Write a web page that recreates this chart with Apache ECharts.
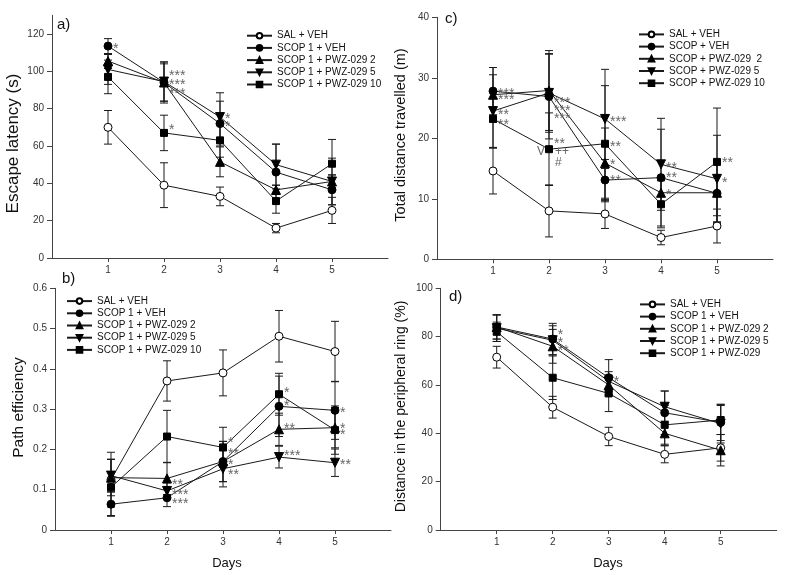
<!DOCTYPE html>
<html><head><meta charset="utf-8">
<script src="https://cdn.jsdelivr.net/npm/echarts@6/dist/echarts.min.js"></script>
<style>html,body{margin:0;padding:0;background:#fff}#c{width:800px;height:575px}</style>
</head><body><div id="c"></div>
<script>
// ---------- data ----------
const days = [1, 2, 3, 4, 5];
const dayTicks = [1, 2, 3, 4, 5];

const namesAB = ['SAL + VEH', 'SCOP 1 + VEH', 'SCOP 1 + PWZ-029 2', 'SCOP 1 + PWZ-029 5', 'SCOP 1 + PWZ-029 10'];
const namesC = ['SAL + VEH', 'SCOP + VEH', 'SCOP + PWZ-029  2', 'SCOP + PWZ-029 5', 'SCOP + PWZ-029 10'];
const namesD = ['SAL + VEH', 'SCOP 1 + VEH', 'SCOP 1 + PWZ-029 2', 'SCOP 1 + PWZ-029 5', 'SCOP 1 + PWZ-029'];

// a) Escape latency (s)
const aTicks = [0, 20, 40, 60, 80, 100, 120];
const a_SAL = [70, 39, 33, 16, 25.5],    a_SAL_err = [9, 12, 5, 2.5, 7];
const a_VEH = [113.5, 94, 72, 46, 36.5], a_VEH_err = [4, 11, 12, 15, 8];
const a_P2  = [105.5, 94, 51.5, 36.5, 41], a_P2_err = [4, 10, 8, 2.5, 3.5];
const a_P5  = [101, 94.5, 75.5, 50, 41], a_P5_err = [8, 10.5, 13, 11, 12.5];
const a_P10 = [97, 67, 63, 30.5, 50.5],  a_P10_err = [9, 9.5, 9, 6.5, 13];
const aStars = [[1, 114, '*'], [2, 99.4, '***'], [2, 94.6, '***'], [2, 89.7, '***'], [2, 70.4, '*'], [3, 76.3, '*'], [3, 72, '*']];

// b) Path efficiency
const bTicks = [0, 0.1, 0.2, 0.3, 0.4, 0.5, 0.6];
const b_SAL = [0.125, 0.37, 0.39, 0.481, 0.443], b_SAL_err = [0.068, 0.05, 0.057, 0.064, 0.075];
const b_VEH = [0.064, 0.08, 0.17, 0.307, 0.297], b_VEH_err = [0.03, 0.022, 0.05, 0.075, 0.072];
const b_P2  = [0.13, 0.128, 0.17, 0.25, 0.254],  b_P2_err = [0.045, 0.04, 0.05, 0.04, 0.05];
const b_P5  = [0.135, 0.097, 0.152, 0.181, 0.167], b_P5_err = [0.04, 0.02, 0.045, 0.027, 0.034];
const b_P10 = [0.106, 0.232, 0.205, 0.337, 0.248], b_P10_err = [0.07, 0.065, 0.05, 0.052, 0.06];
const bStars = [[2, 0.121, '**'], [2, 0.095, '***'], [2, 0.072, '***'],
  [3, 0.224, '*'], [3, 0.196, '**'], [3, 0.17, '*'], [3, 0.146, '**'],
  [4, 0.348, '*'], [4, 0.317, '*'], [4, 0.26, '**'], [4, 0.192, '***'],
  [5, 0.30, '*'], [5, 0.259, '*'], [5, 0.243, '*'], [5, 0.17, '**']];

// c) Total distance travelled (m)
const cTicks = [0, 10, 20, 30, 40];
const c_SAL = [14.6, 8.0, 7.5, 3.6, 5.5],     c_SAL_err = [3.8, 4.3, 2.4, 1.2, 2.8];
const c_VEH = [27.8, 26.9, 13.1, 13.5, 10.9], c_VEH_err = [3.9, 7, 3.4, 8, 5];
const c_P2  = [27.2, 27.9, 15.9, 11, 11],     c_P2_err = [4.5, 6.6, 5.8, 2, 4.8];
const c_P5  = [24.5, 27.5, 23.2, 15.7, 13.3], c_P5_err = [6, 6.5, 8.2, 7.6, 7.2];
const c_P10 = [23.2, 18.2, 19.1, 9.1, 16.1],  c_P10_err = [4.8, 6, 9.6, 3.9, 8.9];
const cStars = [[1, 27.8, '***'], [1, 26.9, '***'], [1, 24.4, '**'], [1, 22.8, '**'],
  [2, 26.4, '***'], [2, 25.0, '***'], [2, 23.7, '***'], [2, 19.6, '**'],
  [3, 23.2, '***'], [3, 19.1, '**'], [3, 16.2, '*'], [3, 13.5, '**'],
  [4, 15.7, '**'], [4, 14.0, '**'], [4, 11.2, '*'],
  [5, 16.4, '**'], [5, 13.2, '*']];
const cNotesRight = [[2, 17.8, '++'], [2, 16.0, '#']];
const cNotesLeft = [[2, 17.8, 'V']];

// d) Distance in the peripheral ring (%)
const dTicks = [0, 20, 40, 60, 80, 100];
const d_SAL = [71.5, 50.8, 38.7, 31.3, 34],  d_SAL_err = [4.5, 4.5, 3.8, 3.5, 5.5];
const d_VEH = [84, 79, 63, 48.5, 44.5],      d_VEH_err = [5, 6.5, 7.5, 9, 7.5];
const d_P2  = [84, 76, 60, 40, 33],          d_P2_err = [5, 7, 4, 5, 6.5];
const d_P5  = [83.5, 78.5, 61.5, 51, 44],    d_P5_err = [5.5, 6, 4, 6.5, 8];
const d_P10 = [82, 63, 56.5, 43.5, 45.5],    d_P10_err = [4, 9, 7.5, 8, 6];
const dStars = [[2, 82.1, '*'], [2, 78.6, '*'], [2, 75.6, '**'], [3, 62.8, '*']];

// ---------- styles ----------
const FONT = '"Liberation Sans", Arial, sans-serif';
const INK = '#1a1a1a';
const AXIS = '#444';
const markStyles = [
  {symbol: 'circle', size: 8, fill: '#ffffff', rot: 0},
  {symbol: 'circle', size: 8, fill: '#000000', rot: 0},
  {symbol: 'triangle', size: 9, fill: '#000000', rot: 0},
  {symbol: 'triangle', size: 9, fill: '#000000', rot: 180},
  {symbol: 'rect', size: 7, fill: '#000000', rot: 0}
];

function lineSeries(xi, name, vals, st) {
  return {
    type: 'line', name: name, xAxisIndex: xi, yAxisIndex: xi,
    data: days.map((d, i) => [d, vals[i]]),
    symbol: st.symbol, symbolSize: st.size, symbolRotate: st.rot, showAllSymbol: true,
    lineStyle: {color: INK, width: 1},
    itemStyle: {color: st.fill, borderColor: '#000', borderWidth: 1, opacity: 1},
    z: 3, silent: true, emphasis: {disabled: true}
  };
}
function errSeries(xi, vals, errs) {
  return {
    type: 'custom', xAxisIndex: xi, yAxisIndex: xi, z: 2, silent: true,
    data: days.map((d, i) => [d, vals[i], errs[i]]),
    renderItem: function (p, api) {
      const x = api.value(0), y = api.value(1), e = api.value(2);
      const t = api.coord([x, y + e]), b = api.coord([x, y - e]);
      const w = 4;
      const s = {stroke: INK, lineWidth: 1};
      return {type: 'group', children: [
        {type: 'line', shape: {x1: t[0], y1: t[1], x2: b[0], y2: b[1]}, style: s},
        {type: 'line', shape: {x1: t[0] - w, y1: t[1], x2: t[0] + w, y2: t[1]}, style: s},
        {type: 'line', shape: {x1: b[0] - w, y1: b[1], x2: b[0] + w, y2: b[1]}, style: s}
      ]};
    }
  };
}
function textSeries(xi, items, dx, dy, align, size) {
  return {
    type: 'custom', xAxisIndex: xi, yAxisIndex: xi, z: 6, silent: true,
    data: items.map(it => [it[0], it[1]]),
    renderItem: function (p, api) {
      const pt = api.coord([api.value(0), api.value(1)]);
      return {type: 'text', x: pt[0] + dx, y: pt[1] + dy,
        style: {text: items[p.dataIndex][2], fill: '#666', font: size + 'px ' + FONT, align: align, verticalAlign: 'middle'}};
    }
  };
}

function xAxis(gi) {
  return {
    type: 'value', gridIndex: gi, min: 0, max: 6, interval: 1,
    axisLine: {lineStyle: {color: AXIS, width: 1}},
    axisTick: {show: true, length: 4, lineStyle: {color: AXIS}, customValues: dayTicks},
    axisLabel: {fontSize: 10, color: '#333', fontFamily: FONT, margin: 7, customValues: dayTicks,
      formatter: v => (dayTicks.indexOf(v) >= 0 ? String(v) : '')},
    splitLine: {show: false}
  };
}
function yAxis(gi, max, interval, ticks) {
  return {
    type: 'value', gridIndex: gi, min: 0, max: max, interval: interval,
    axisLine: {show: true, lineStyle: {color: AXIS, width: 1}},
    axisTick: {show: true, length: 5, lineStyle: {color: AXIS}, customValues: ticks},
    axisLabel: {fontSize: 10, color: '#333', fontFamily: FONT, margin: 8, customValues: ticks,
      formatter: v => (ticks.some(t => Math.abs(t - v) < 1e-9) ? String(+v.toFixed(3)) : '')},
    splitLine: {show: false}
  };
}
function legend(left, top, names) {
  return {
    left: left, top: top, orient: 'vertical', data: names, selectedMode: false,
    itemWidth: 25, itemHeight: 7, itemGap: 0, padding: 0,
    textStyle: {fontSize: 10, color: '#111', fontFamily: FONT, lineHeight: 12.2}
  };
}
function title(x, y, text, size, rotated) {
  return {type: 'text', x: x, y: y, rotation: rotated ? Math.PI / 2 : 0,
    style: {text: text, font: size + 'px ' + FONT, fill: '#111', align: 'center', verticalAlign: 'middle'}};
}

const panels = [
  {xi: 0, names: namesAB, vals: [a_SAL, a_VEH, a_P2, a_P5, a_P10], errs: [a_SAL_err, a_VEH_err, a_P2_err, a_P5_err, a_P10_err], stars: aStars},
  {xi: 1, names: namesC, vals: [c_SAL, c_VEH, c_P2, c_P5, c_P10], errs: [c_SAL_err, c_VEH_err, c_P2_err, c_P5_err, c_P10_err], stars: cStars},
  {xi: 2, names: namesAB, vals: [b_SAL, b_VEH, b_P2, b_P5, b_P10], errs: [b_SAL_err, b_VEH_err, b_P2_err, b_P5_err, b_P10_err], stars: bStars},
  {xi: 3, names: namesD, vals: [d_SAL, d_VEH, d_P2, d_P5, d_P10], errs: [d_SAL_err, d_VEH_err, d_P2_err, d_P5_err, d_P10_err], stars: dStars}
];

const series = [];
panels.forEach(p => {
  p.vals.forEach((v, k) => series.push(errSeries(p.xi, v, p.errs[k])));
  p.vals.forEach((v, k) => series.push(lineSeries(p.xi, p.names[k], v, markStyles[k])));
  series.push(textSeries(p.xi, p.stars, 5, 3.5, 'left', 14));
});
series.push(textSeries(1, cNotesRight, 6, 0, 'left', 12));
series.push(textSeries(1, cNotesLeft, -4, 0, 'right', 12));

const option = {
  animation: false,
  backgroundColor: '#ffffff',
  grid: [
    {left: 52, top: 15.3, width: 336, height: 242.7},
    {left: 437, top: 17.3, width: 336, height: 242},
    {left: 55, top: 288.3, width: 336, height: 241.7},
    {left: 440.7, top: 288.3, width: 336, height: 241.7}
  ],
  xAxis: [xAxis(0), xAxis(1), xAxis(2), xAxis(3)],
  yAxis: [
    yAxis(0, 130, 20, aTicks),
    yAxis(1, 40, 10, cTicks),
    yAxis(2, 0.6, 0.1, bTicks),
    yAxis(3, 100, 20, dTicks)
  ],
  legend: [legend(246, 29.6, namesAB), legend(638, 28.3, namesC), legend(66, 295, namesAB), legend(639, 298.3, namesD)],
  graphic: [
    {type: 'text', left: 57, top: 17, style: {text: 'a)', font: '15px ' + FONT, fill: '#111'}},
    {type: 'text', left: 445, top: 11, style: {text: 'c)', font: '15px ' + FONT, fill: '#111'}},
    {type: 'text', left: 62, top: 271, style: {text: 'b)', font: '15px ' + FONT, fill: '#111'}},
    {type: 'text', left: 449, top: 289, style: {text: 'd)', font: '15px ' + FONT, fill: '#111'}},
    title(13, 143.5, 'Escape latency (s)', 17, true),
    title(401, 135, 'Total distance travelled (m)', 14.5, true),
    title(18.5, 407.5, 'Path efficiency', 15.5, true),
    title(401.5, 406.5, 'Distance in the peripheral ring (%)', 14, true),
    title(227, 563, 'Days', 13, false),
    title(608, 563, 'Days', 13, false)
  ],
  series: series
};
const chart = echarts.init(document.getElementById('c'), null, {renderer: 'canvas'});
chart.setOption(option);
</script>
</body></html>
